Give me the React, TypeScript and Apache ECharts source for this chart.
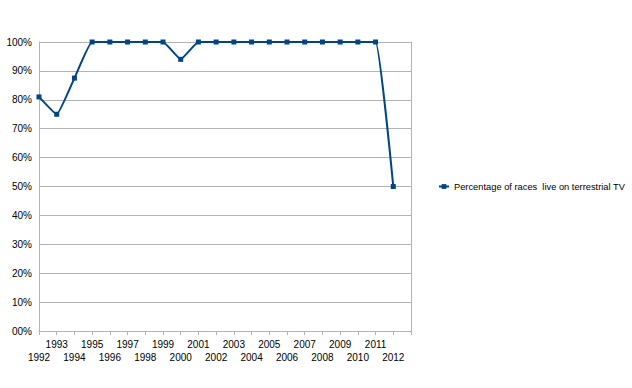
import React, { useEffect, useRef } from "react";
import * as echarts from "echarts";

const years = [1992, 1993, 1994, 1995, 1996, 1997, 1998, 1999, 2000, 2001, 2002, 2003, 2004, 2005, 2006, 2007, 2008, 2009, 2010, 2011, 2012];
const percentLive = [81, 75, 87.5, 100, 100, 100, 100, 100, 94, 100, 100, 100, 100, 100, 100, 100, 100, 100, 100, 100, 50];
const seriesName = "Percentage of races  live on terrestrial TV";
const firstYear = 1992;
const axisEnd = 2013;

export default function App() {
  const ref = useRef<HTMLDivElement>(null);
  useEffect(() => {
    if (!ref.current) return;
    const chart = echarts.init(ref.current, undefined, { renderer: "svg" });
    const font = "Liberation Sans, Arial, sans-serif";
    const lastYear = years[years.length - 1];
    chart.setOption({
      animation: false,
      backgroundColor: "#ffffff",
      grid: { left: 39, right: 221, top: 42, bottom: 57, containLabel: false },
      legend: {
        left: 438,
        top: 182,
        padding: 0,
        itemWidth: 10,
        itemHeight: 6,
        textStyle: { fontFamily: font, fontSize: 9.3, color: "#000" },
        data: [seriesName],
      },
      xAxis: [
        {
          type: "value",
          min: firstYear,
          max: axisEnd,
          interval: 1,
          position: "bottom",
          axisLine: { show: true, lineStyle: { color: "#b3b3b3", width: 1 } },
          axisTick: { show: true, length: 4, lineStyle: { color: "#b3b3b3" } },
          splitLine: { show: false },
          axisLabel: {
            fontFamily: font,
            fontSize: 10,
            color: "#000",
            margin: 8,
            showMinLabel: true,
            showMaxLabel: true,
            hideOverlap: false,
            formatter: (v: number) => (v <= lastYear && v % 2 === 1 ? String(v) : ""),
          },
        },
        {
          type: "value",
          min: firstYear,
          max: axisEnd,
          interval: 1,
          position: "bottom",
          offset: 0,
          axisLine: { show: false },
          axisTick: { show: false },
          splitLine: { show: false },
          axisLabel: {
            fontFamily: font,
            fontSize: 10,
            color: "#000",
            margin: 21,
            showMinLabel: true,
            showMaxLabel: true,
            hideOverlap: false,
            formatter: (v: number) => (v <= lastYear && v % 2 === 0 ? String(v) : ""),
          },
        },
      ],
      yAxis: [
        {
          type: "value",
          min: 0,
          max: 100,
          interval: 10,
          axisLine: { show: true, lineStyle: { color: "#b3b3b3" } },
          axisTick: { show: false },
          splitLine: { show: true, lineStyle: { color: "#b3b3b3", width: 1 } },
          axisLabel: {
            fontFamily: font,
            fontSize: 10,
            color: "#000",
            margin: 7,
            formatter: (v: number) => (v === 0 ? "00%" : v + "%"),
          },
        },
        {
          type: "value",
          position: "right",
          min: 0,
          max: 100,
          interval: 10,
          axisLine: { show: true, lineStyle: { color: "#b3b3b3" } },
          axisTick: { show: false },
          axisLabel: { show: false },
          splitLine: { show: false },
        },
      ],
      series: [
        {
          name: seriesName,
          type: "line",
          smooth: 0.12,
          data: years.map((y, i) => [y, percentLive[i]]),
          symbol: "rect",
          symbolSize: 5,
          showAllSymbol: true,
          lineStyle: { color: "#004586", width: 2 },
          itemStyle: { color: "#004586" },
        },
      ],
    });
    return () => chart.dispose();
  }, []);
  return <div ref={ref} style={{ width: 632, height: 388, position: "absolute", left: 0, top: 0 }} />;
}
